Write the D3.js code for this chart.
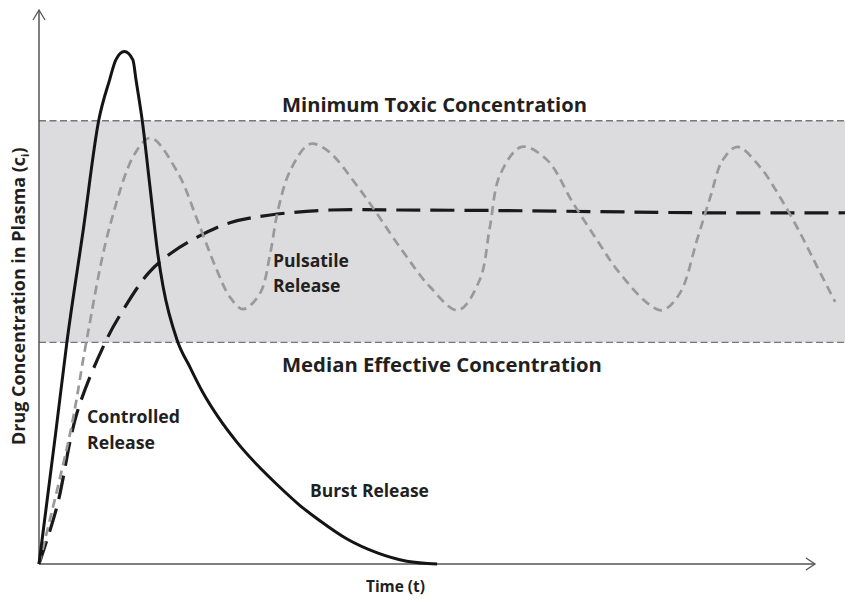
<!DOCTYPE html>
<html>
<head>
<meta charset="utf-8">
<script src="https://cdn.jsdelivr.net/npm/d3@7"></script>
<style>
  html, body { margin: 0; padding: 0; background: #fff; }
  svg { display: block; }
  text { font-family: "Open Sans", Lato, sans-serif; font-weight: 700; fill: #231f20; }
</style>
</head>
<body>
<svg id="chart" width="845" height="600"></svg>
<script>
// ---- data (time 0..100 on the axis, concentration 0..100) ----
const therapeuticWindow = [40, 80];          // [median effective, minimum toxic]
const windowTimeEnd = 104;

const burstTime = [0, 2.2, 3.6, 5.7, 7.7, 9.1, 9.9, 11.0, 12.1, 12.5, 13.3, 14.3, 15.3, 16.0, 17.8, 19.5, 21.1, 23.1, 25.5, 28.1, 30.7, 33.6, 36.2, 39.7, 43.6, 47.4, 51.3];
const burstConc = [0, 24.2, 40.1, 60.3, 80.1, 87.4, 91.0, 92.5, 91.0, 87.4, 80.1, 68.1, 56.1, 50.0, 40.4, 35.4, 31.0, 26.5, 22.0, 17.9, 14.3, 10.6, 7.8, 4.5, 2.0, 0.5, 0];

const pulsatileTime = [0, 4.1, 6.1, 9.0, 12.4, 14.4, 17.9, 20.4, 22.9, 24.6, 26.3, 28.5, 29.8, 30.8, 32.4, 34.9, 37.1, 41.4, 46.5, 50.4, 54.0, 56.8, 58.1, 59.4, 62.2, 65.5, 68.8, 71.9, 74.5, 78.4, 80.3, 82.6, 84.8, 86.5, 88.1, 90.0, 92.9, 95.5, 98.1, 100.3, 102.6];
const pulsatileConc = [0, 24.2, 40.1, 60.3, 74.2, 76.9, 70.6, 62.1, 53.1, 48.2, 46.0, 48.9, 56.1, 63.9, 71.1, 75.8, 74.7, 67.5, 57.2, 50.0, 45.8, 51.3, 60.8, 70.2, 75.3, 72.9, 65.2, 58.5, 53.1, 47.1, 45.8, 48.9, 58.5, 66.2, 72.9, 75.3, 71.7, 66.2, 59.7, 53.6, 47.3];

const controlledTime = [0, 2.3, 4.9, 8.5, 10.6, 14.1, 17.0, 20.4, 24.6, 29.8, 37.5, 46.5, 59.4, 72.3, 85.2, 103.9];
const controlledConc = [0, 10.3, 27.3, 39.9, 45.3, 52.5, 56.1, 59.0, 61.6, 63.0, 63.9, 63.9, 63.8, 63.6, 63.4, 63.4];

const windowLabels = ["Minimum Toxic Concentration", "Median Effective Concentration"];
const curveLabels = [["Pulsatile", "Release"], ["Controlled", "Release"], ["Burst Release"]];
const xTitle = "Time (t)";
const yTitle = "Drug Concentration in Plasma (c";
const yTitleSub = "i";

// ---- scales ----
const svg = d3.select("#chart");
const x = d3.scaleLinear().domain([0, 100]).range([39, 815]);
const y = d3.scaleLinear().domain([0, 100]).range([564, 10]);

const zip = (a, b) => a.map((v, i) => [v, b[i]]);
const line = d3.line().x(d => x(d[0])).y(d => y(d[1])).curve(d3.curveCatmullRom.alpha(0.5));
const smoothLine = d3.line().x(d => x(d[0])).y(d => y(d[1])).curve(d3.curveMonotoneX);

// fit a text element's font size so it spans a given width
function fit(sel, width) {
  const fs = parseFloat(sel.attr("font-size"));
  const w = sel.node().getComputedTextLength();
  if (w > 0) sel.attr("font-size", (fs * width / w).toFixed(2));
  return sel;
}

// therapeutic window band
svg.append("rect")
  .attr("x", x(0)).attr("y", y(therapeuticWindow[1]))
  .attr("width", x(windowTimeEnd) - x(0))
  .attr("height", y(therapeuticWindow[0]) - y(therapeuticWindow[1]))
  .attr("fill", "#dcdcde");

svg.selectAll("line.bound").data(therapeuticWindow).enter().append("line")
  .attr("class", "bound")
  .attr("x1", x(0)).attr("x2", x(windowTimeEnd))
  .attr("y1", d => y(d)).attr("y2", d => y(d))
  .attr("stroke", "#777").attr("stroke-width", 1.4).attr("stroke-dasharray", "7,3.5");

// axes
const axisColor = "#555";
svg.append("line").attr("x1", x(0)).attr("y1", y(0)).attr("x2", x(100)).attr("y2", y(0))
  .attr("stroke", axisColor).attr("stroke-width", 1.5);
svg.append("line").attr("x1", x(0)).attr("y1", y(0)).attr("x2", x(0)).attr("y2", y(100))
  .attr("stroke", axisColor).attr("stroke-width", 1.5);
svg.append("path")
  .attr("d", `M${x(100) - 9},${y(0) - 6} L${x(100)},${y(0)} L${x(100) - 9},${y(0) + 6}`)
  .attr("fill", "none").attr("stroke", axisColor).attr("stroke-width", 1.3);
svg.append("path")
  .attr("d", `M${x(0) - 6},${y(100) + 10} L${x(0)},${y(100)} L${x(0) + 6},${y(100) + 10}`)
  .attr("fill", "none").attr("stroke", axisColor).attr("stroke-width", 1.3);

// curves
svg.append("path").datum(zip(controlledTime, controlledConc))
  .attr("d", line).attr("fill", "none")
  .attr("stroke", "#1a1a1a").attr("stroke-width", 3.2).attr("stroke-dasharray", "24,10");

svg.append("path").datum(zip(pulsatileTime, pulsatileConc))
  .attr("d", line).attr("fill", "none")
  .attr("stroke", "#999").attr("stroke-width", 2.7).attr("stroke-dasharray", "9,5.5");

svg.append("path").datum(zip(burstTime, burstConc))
  .attr("d", smoothLine).attr("fill", "none")
  .attr("stroke", "#141414").attr("stroke-width", 3);

// window labels
fit(svg.append("text").attr("x", 282).attr("y", 112).attr("font-size", 20).text(windowLabels[0]), 305);
fit(svg.append("text").attr("x", 282).attr("y", 372).attr("font-size", 20).text(windowLabels[1]), 320);

// curve labels
function multiLine(lines, px, py, lh, width) {
  const t = svg.append("text").attr("x", px).attr("y", py).attr("font-size", 17);
  lines.forEach((s, i) => t.append("tspan").attr("x", px).attr("dy", i === 0 ? 0 : lh).text(s));
  const first = t.select("tspan").node().getComputedTextLength();
  if (first > 0) t.attr("font-size", (17 * width / first).toFixed(2));
}
multiLine(curveLabels[0], 273, 267, 25, 76);
multiLine(curveLabels[1], 87, 423, 26, 93);
multiLine(curveLabels[2], 310, 497, 25, 119);

// axis titles
fit(svg.append("text").attr("x", 366).attr("y", 592)
  .attr("font-size", 13).text(xTitle), 59);

const yt = svg.append("text")
  .attr("transform", "translate(25,445) rotate(-90)")
  .attr("font-size", 16.5);
yt.append("tspan").text(yTitle);
yt.append("tspan").attr("font-size", 11).attr("dy", 4).text(yTitleSub);
yt.append("tspan").attr("dy", -4).text(")");
fit(yt, 298);
</script>
</body>
</html>
